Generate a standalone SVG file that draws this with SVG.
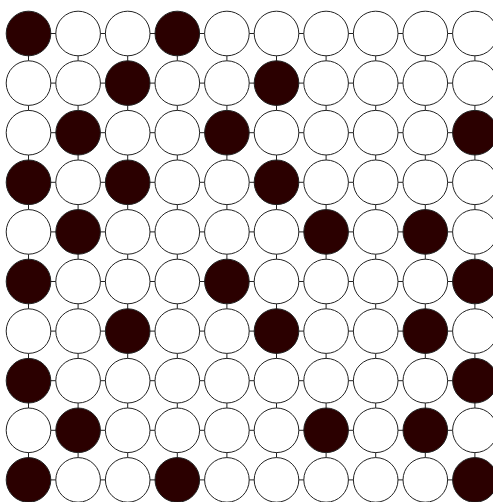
<svg xmlns="http://www.w3.org/2000/svg" width="493" height="502" viewBox="0 0 493 502">
<style>
.c{stroke:#222;stroke-width:1;fill:#fff}
.f{fill:#2b0000}
.l{stroke:#222;stroke-width:1;fill:none}
</style>
<rect width="493" height="502" fill="#fff"/>
<g id="connectors" class="l">
<path d="M28.5 33.5H474.9M28.5 83.1H474.9M28.5 132.7H474.9M28.5 182.3H474.9M28.5 231.9H474.9M28.5 281.5H474.9M28.5 331.1H474.9M28.5 380.7H474.9M28.5 430.3H474.9M28.5 479.9H474.9"/>
<path d="M28.5 33.5V479.9M78.1 33.5V479.9M127.7 33.5V479.9M177.3 33.5V479.9M226.9 33.5V479.9M276.5 33.5V479.9M326.1 33.5V479.9M375.7 33.5V479.9M425.3 33.5V479.9M474.9 33.5V479.9"/>
</g>
<g id="r0">
<g id="n0_0"><circle class="c f" cx="28.5" cy="33.5" r="22.3"/></g>
<g id="n0_1"><circle class="c" cx="78.1" cy="33.5" r="22.3"/></g>
<g id="n0_2"><circle class="c" cx="127.7" cy="33.5" r="22.3"/></g>
<g id="n0_3"><circle class="c f" cx="177.3" cy="33.5" r="22.3"/></g>
<g id="n0_4"><circle class="c" cx="226.9" cy="33.5" r="22.3"/></g>
<g id="n0_5"><circle class="c" cx="276.5" cy="33.5" r="22.3"/></g>
<g id="n0_6"><circle class="c" cx="326.1" cy="33.5" r="22.3"/></g>
<g id="n0_7"><circle class="c" cx="375.7" cy="33.5" r="22.3"/></g>
<g id="n0_8"><circle class="c" cx="425.3" cy="33.5" r="22.3"/></g>
<g id="n0_9"><circle class="c" cx="474.9" cy="33.5" r="22.3"/></g>
</g>
<g id="r1">
<g id="n1_0"><circle class="c" cx="28.5" cy="83.1" r="22.3"/></g>
<g id="n1_1"><circle class="c" cx="78.1" cy="83.1" r="22.3"/></g>
<g id="n1_2"><circle class="c f" cx="127.7" cy="83.1" r="22.3"/></g>
<g id="n1_3"><circle class="c" cx="177.3" cy="83.1" r="22.3"/></g>
<g id="n1_4"><circle class="c" cx="226.9" cy="83.1" r="22.3"/></g>
<g id="n1_5"><circle class="c f" cx="276.5" cy="83.1" r="22.3"/></g>
<g id="n1_6"><circle class="c" cx="326.1" cy="83.1" r="22.3"/></g>
<g id="n1_7"><circle class="c" cx="375.7" cy="83.1" r="22.3"/></g>
<g id="n1_8"><circle class="c" cx="425.3" cy="83.1" r="22.3"/></g>
<g id="n1_9"><circle class="c" cx="474.9" cy="83.1" r="22.3"/></g>
</g>
<g id="r2">
<g id="n2_0"><circle class="c" cx="28.5" cy="132.7" r="22.3"/></g>
<g id="n2_1"><circle class="c f" cx="78.1" cy="132.7" r="22.3"/></g>
<g id="n2_2"><circle class="c" cx="127.7" cy="132.7" r="22.3"/></g>
<g id="n2_3"><circle class="c" cx="177.3" cy="132.7" r="22.3"/></g>
<g id="n2_4"><circle class="c f" cx="226.9" cy="132.7" r="22.3"/></g>
<g id="n2_5"><circle class="c" cx="276.5" cy="132.7" r="22.3"/></g>
<g id="n2_6"><circle class="c" cx="326.1" cy="132.7" r="22.3"/></g>
<g id="n2_7"><circle class="c" cx="375.7" cy="132.7" r="22.3"/></g>
<g id="n2_8"><circle class="c" cx="425.3" cy="132.7" r="22.3"/></g>
<g id="n2_9"><circle class="c f" cx="474.9" cy="132.7" r="22.3"/></g>
</g>
<g id="r3">
<g id="n3_0"><circle class="c f" cx="28.5" cy="182.3" r="22.3"/></g>
<g id="n3_1"><circle class="c" cx="78.1" cy="182.3" r="22.3"/></g>
<g id="n3_2"><circle class="c f" cx="127.7" cy="182.3" r="22.3"/></g>
<g id="n3_3"><circle class="c" cx="177.3" cy="182.3" r="22.3"/></g>
<g id="n3_4"><circle class="c" cx="226.9" cy="182.3" r="22.3"/></g>
<g id="n3_5"><circle class="c f" cx="276.5" cy="182.3" r="22.3"/></g>
<g id="n3_6"><circle class="c" cx="326.1" cy="182.3" r="22.3"/></g>
<g id="n3_7"><circle class="c" cx="375.7" cy="182.3" r="22.3"/></g>
<g id="n3_8"><circle class="c" cx="425.3" cy="182.3" r="22.3"/></g>
<g id="n3_9"><circle class="c" cx="474.9" cy="182.3" r="22.3"/></g>
</g>
<g id="r4">
<g id="n4_0"><circle class="c" cx="28.5" cy="231.9" r="22.3"/></g>
<g id="n4_1"><circle class="c f" cx="78.1" cy="231.9" r="22.3"/></g>
<g id="n4_2"><circle class="c" cx="127.7" cy="231.9" r="22.3"/></g>
<g id="n4_3"><circle class="c" cx="177.3" cy="231.9" r="22.3"/></g>
<g id="n4_4"><circle class="c" cx="226.9" cy="231.9" r="22.3"/></g>
<g id="n4_5"><circle class="c" cx="276.5" cy="231.9" r="22.3"/></g>
<g id="n4_6"><circle class="c f" cx="326.1" cy="231.9" r="22.3"/></g>
<g id="n4_7"><circle class="c" cx="375.7" cy="231.9" r="22.3"/></g>
<g id="n4_8"><circle class="c f" cx="425.3" cy="231.9" r="22.3"/></g>
<g id="n4_9"><circle class="c" cx="474.9" cy="231.9" r="22.3"/></g>
</g>
<g id="r5">
<g id="n5_0"><circle class="c f" cx="28.5" cy="281.5" r="22.3"/></g>
<g id="n5_1"><circle class="c" cx="78.1" cy="281.5" r="22.3"/></g>
<g id="n5_2"><circle class="c" cx="127.7" cy="281.5" r="22.3"/></g>
<g id="n5_3"><circle class="c" cx="177.3" cy="281.5" r="22.3"/></g>
<g id="n5_4"><circle class="c f" cx="226.9" cy="281.5" r="22.3"/></g>
<g id="n5_5"><circle class="c" cx="276.5" cy="281.5" r="22.3"/></g>
<g id="n5_6"><circle class="c" cx="326.1" cy="281.5" r="22.3"/></g>
<g id="n5_7"><circle class="c" cx="375.7" cy="281.5" r="22.3"/></g>
<g id="n5_8"><circle class="c" cx="425.3" cy="281.5" r="22.3"/></g>
<g id="n5_9"><circle class="c f" cx="474.9" cy="281.5" r="22.3"/></g>
</g>
<g id="r6">
<g id="n6_0"><circle class="c" cx="28.5" cy="331.1" r="22.3"/></g>
<g id="n6_1"><circle class="c" cx="78.1" cy="331.1" r="22.3"/></g>
<g id="n6_2"><circle class="c f" cx="127.7" cy="331.1" r="22.3"/></g>
<g id="n6_3"><circle class="c" cx="177.3" cy="331.1" r="22.3"/></g>
<g id="n6_4"><circle class="c" cx="226.9" cy="331.1" r="22.3"/></g>
<g id="n6_5"><circle class="c f" cx="276.5" cy="331.1" r="22.3"/></g>
<g id="n6_6"><circle class="c" cx="326.1" cy="331.1" r="22.3"/></g>
<g id="n6_7"><circle class="c" cx="375.7" cy="331.1" r="22.3"/></g>
<g id="n6_8"><circle class="c f" cx="425.3" cy="331.1" r="22.3"/></g>
<g id="n6_9"><circle class="c" cx="474.9" cy="331.1" r="22.3"/></g>
</g>
<g id="r7">
<g id="n7_0"><circle class="c f" cx="28.5" cy="380.7" r="22.3"/></g>
<g id="n7_1"><circle class="c" cx="78.1" cy="380.7" r="22.3"/></g>
<g id="n7_2"><circle class="c" cx="127.7" cy="380.7" r="22.3"/></g>
<g id="n7_3"><circle class="c" cx="177.3" cy="380.7" r="22.3"/></g>
<g id="n7_4"><circle class="c" cx="226.9" cy="380.7" r="22.3"/></g>
<g id="n7_5"><circle class="c" cx="276.5" cy="380.7" r="22.3"/></g>
<g id="n7_6"><circle class="c" cx="326.1" cy="380.7" r="22.3"/></g>
<g id="n7_7"><circle class="c" cx="375.7" cy="380.7" r="22.3"/></g>
<g id="n7_8"><circle class="c" cx="425.3" cy="380.7" r="22.3"/></g>
<g id="n7_9"><circle class="c f" cx="474.9" cy="380.7" r="22.3"/></g>
</g>
<g id="r8">
<g id="n8_0"><circle class="c" cx="28.5" cy="430.3" r="22.3"/></g>
<g id="n8_1"><circle class="c f" cx="78.1" cy="430.3" r="22.3"/></g>
<g id="n8_2"><circle class="c" cx="127.7" cy="430.3" r="22.3"/></g>
<g id="n8_3"><circle class="c" cx="177.3" cy="430.3" r="22.3"/></g>
<g id="n8_4"><circle class="c" cx="226.9" cy="430.3" r="22.3"/></g>
<g id="n8_5"><circle class="c" cx="276.5" cy="430.3" r="22.3"/></g>
<g id="n8_6"><circle class="c f" cx="326.1" cy="430.3" r="22.3"/></g>
<g id="n8_7"><circle class="c" cx="375.7" cy="430.3" r="22.3"/></g>
<g id="n8_8"><circle class="c f" cx="425.3" cy="430.3" r="22.3"/></g>
<g id="n8_9"><circle class="c" cx="474.9" cy="430.3" r="22.3"/></g>
</g>
<g id="r9">
<g id="n9_0"><circle class="c f" cx="28.5" cy="479.9" r="22.3"/></g>
<g id="n9_1"><circle class="c" cx="78.1" cy="479.9" r="22.3"/></g>
<g id="n9_2"><circle class="c" cx="127.7" cy="479.9" r="22.3"/></g>
<g id="n9_3"><circle class="c f" cx="177.3" cy="479.9" r="22.3"/></g>
<g id="n9_4"><circle class="c" cx="226.9" cy="479.9" r="22.3"/></g>
<g id="n9_5"><circle class="c" cx="276.5" cy="479.9" r="22.3"/></g>
<g id="n9_6"><circle class="c" cx="326.1" cy="479.9" r="22.3"/></g>
<g id="n9_7"><circle class="c" cx="375.7" cy="479.9" r="22.3"/></g>
<g id="n9_8"><circle class="c" cx="425.3" cy="479.9" r="22.3"/></g>
<g id="n9_9"><circle class="c f" cx="474.9" cy="479.9" r="22.3"/></g>
</g>
</svg>
